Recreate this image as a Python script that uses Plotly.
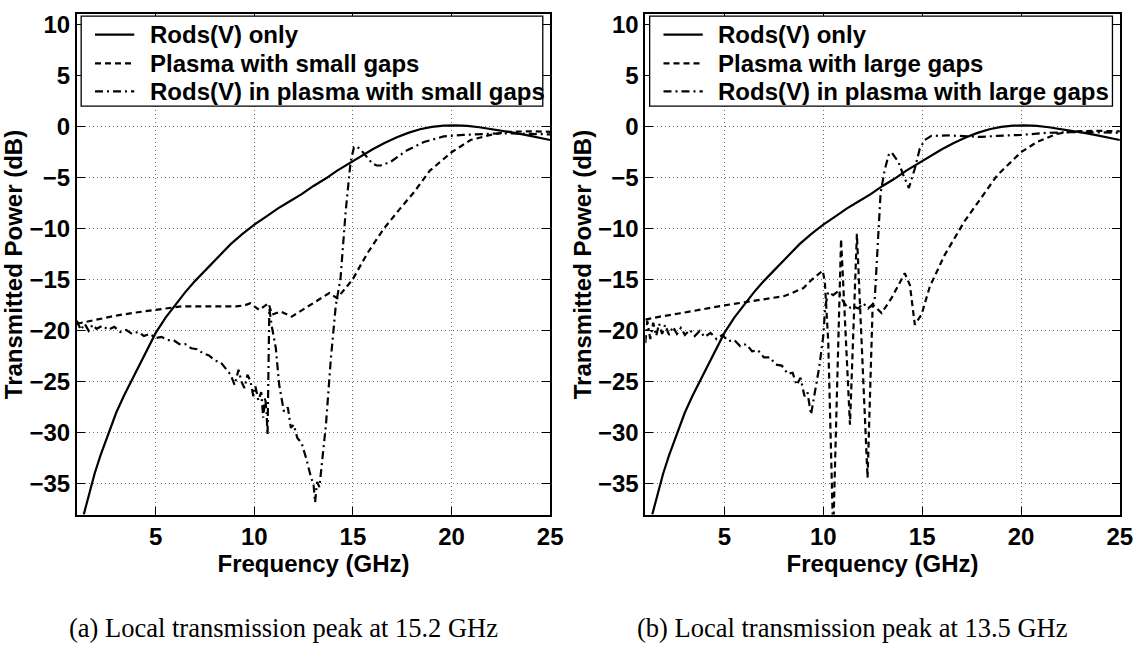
import plotly.graph_objects as go

# ---------------- data ----------------
rods_freq = [1.35, 1.6, 1.9, 2.2, 2.6, 3.0, 3.4, 3.8, 4.2, 4.6, 5.0, 5.5, 6.0, 6.5, 7.0, 7.6,
             8.2, 8.8, 9.4, 10.0, 10.6, 11.2, 11.8, 12.4, 13.0, 13.6, 14.2, 14.8, 15.4, 16.0,
             16.6, 17.2, 17.8, 18.4, 19.0, 19.6, 20.2, 20.8, 21.4, 22.0, 22.6, 23.2, 23.8, 24.4, 25.0]
rods_db = [-38.0, -36.1, -34.0, -32.2, -30.0, -28.0, -26.3, -24.8, -23.2, -21.7, -20.2, -18.7,
           -17.4, -16.2, -15.1, -13.9, -12.7, -11.5, -10.5, -9.6, -8.8, -8.0, -7.3, -6.6, -5.8,
           -5.1, -4.3, -3.6, -2.9, -2.2, -1.6, -1.05, -0.6, -0.25, -0.02, 0.1, 0.13, 0.08, -0.05,
           -0.22, -0.4, -0.6, -0.82, -1.05, -1.3]

small_plasma_freq = [1.0, 1.5, 2.1, 3.0, 4.0, 5.0, 6.3, 7.7, 9.1, 9.5, 9.8, 10.25, 10.72, 10.9,
                     11.34, 11.9, 12.8, 13.8, 14.2, 14.97, 15.73, 16.57, 17.4, 18.1, 18.9, 20.0,
                     20.96, 21.98, 22.8, 24.0, 25.0]
small_plasma_db = [-19.3, -19.1, -18.9, -18.5, -18.2, -17.95, -17.6, -17.6, -17.6, -17.5, -17.3,
                   -17.95, -17.3, -18.4, -18.1, -18.6, -17.5, -16.3, -16.8, -15.0, -12.4, -9.97,
                   -8.0, -6.4, -4.3, -2.5, -1.3, -0.8, -0.5, -0.45, -0.5]

small_rods_plasma_freq = [1.0, 1.2, 1.4, 1.6, 1.8, 2.0, 2.3, 2.6, 2.9, 3.2, 3.5, 3.8, 4.1, 4.4, 4.7,
                          5.0, 5.3, 5.6, 5.9, 6.2, 6.5, 6.8, 7.1, 7.4, 7.7, 8.0, 8.3, 8.6, 8.8, 9.0,
                          9.2, 9.35, 9.5, 9.65, 9.8, 9.95, 10.05, 10.2, 10.35, 10.45, 10.55, 10.62,
                          10.67, 10.76, 10.88, 11.09, 11.26, 11.5, 11.7, 11.85, 12.0, 12.18, 12.4,
                          12.63, 12.88, 13.0, 13.08, 13.18, 13.3, 13.63, 13.88, 14.13, 14.37, 14.63,
                          14.88, 15.05, 15.15, 15.3, 15.55, 15.98, 16.2, 16.4, 16.9, 17.75, 18.6,
                          19.6, 20.6, 22.0, 23.0, 24.0, 25.0]
small_rods_plasma_db = [-19.0, -19.9, -19.3, -20.0, -19.4, -19.8, -19.5, -19.9, -19.6, -20.1, -19.9,
                        -20.3, -20.1, -20.5, -20.3, -20.7, -20.6, -20.9, -20.9, -21.3, -21.3, -21.7,
                        -21.8, -22.2, -22.4, -22.9, -23.1, -23.8, -24.3, -25.3, -23.8, -25.0, -25.6,
                        -24.3, -24.9, -26.4, -25.4, -26.8, -26.0, -28.5, -26.5, -28.0, -30.2, -17.8,
                        -19.5, -21.7, -25.3, -27.9, -27.5, -29.5, -29.2, -30.5, -31.0, -32.5, -34.4,
                        -35.0, -36.8, -34.8, -35.3, -29.2, -22.7, -17.5, -14.85, -8.3, -3.45, -2.0,
                        -1.9, -2.1, -2.6, -3.6, -3.8, -3.8, -3.45, -2.3, -1.5, -0.95, -0.8, -0.68,
                        -0.65, -0.7, -0.75]

large_plasma_freq = [1.0, 1.75, 2.7, 3.75, 5.0, 6.0, 7.0, 8.0, 8.4, 9.0, 9.41, 9.97, 10.08, 10.25,
                     10.5, 10.9, 11.35, 11.7, 12.24, 12.5, 12.95, 13.45, 14.12, 14.38, 14.63, 14.97,
                     15.39, 16.13, 17.13, 17.97, 18.8, 20.0, 20.8, 21.8, 22.7, 24.0, 25.0]
large_plasma_db = [-18.9, -18.6, -18.3, -17.9, -17.5, -17.2, -16.9, -16.6, -16.3, -15.8, -15.0,
                   -14.1, -15.2, -21.0, -40.0, -11.0, -29.2, -10.5, -34.4, -17.4, -18.25, -16.8,
                   -14.35, -15.5, -19.4, -18.4, -15.65, -12.6, -9.3, -7.0, -4.75, -2.5, -1.5,
                   -0.7, -0.45, -0.4, -0.45]

large_rods_plasma_freq = [1.0, 1.1, 1.25, 1.4, 1.55, 1.7, 1.85, 2.0, 2.2, 2.4, 2.6, 2.8, 3.0, 3.25,
                          3.5, 3.75, 4.0, 4.3, 4.6, 4.9, 5.2, 5.5, 5.8, 6.1, 6.4, 6.7, 7.0, 7.3, 7.6,
                          7.9, 8.2, 8.45, 8.65, 8.85, 9.05, 9.2, 9.38, 9.6, 9.8, 10.0, 10.1, 10.25,
                          10.5, 10.76, 11.0, 11.26, 11.5, 11.77, 12.02, 12.27, 12.5, 12.6, 12.75,
                          12.9, 13.1, 13.3, 13.45, 13.8, 14.05, 14.33, 14.63, 14.88, 15.13, 15.47,
                          16.3, 17.13, 17.97, 18.8, 20.0, 21.3, 22.7, 24.0, 25.0]
large_rods_plasma_db = [-21.2, -19.0, -20.8, -19.2, -20.5, -19.3, -20.3, -19.4, -20.4, -19.6, -20.3,
                        -19.7, -20.4, -19.9, -20.5, -20.0, -20.6, -20.2, -20.8, -20.4, -21.0, -20.9,
                        -21.5, -21.3, -22.0, -21.9, -22.6, -22.6, -23.3, -23.4, -24.2, -24.1, -25.3,
                        -24.6, -26.4, -26.0, -28.2, -25.5, -23.5, -20.5, -17.6, -16.2, -16.5, -16.1,
                        -17.1, -17.8, -17.6, -17.8, -17.3, -17.8, -17.4, -17.0, -12.0, -6.5, -4.3,
                        -2.8, -2.5, -3.45, -4.75, -6.0, -4.1, -2.15, -1.3, -0.9, -0.85, -0.9, -1.0,
                        -0.9, -0.8, -0.6, -0.52, -0.55, -0.6]

left_names = ["Rods(V) only", "Plasma with small gaps", "Rods(V) in plasma with small gaps"]
right_names = ["Rods(V) only", "Plasma with large gaps", "Rods(V) in plasma with large gaps"]
captions = ["(a) Local transmission peak at 15.2 GHz", "(b) Local transmission peak at 13.5 GHz"]
x_ticks = [5, 10, 15, 20, 25]
y_ticks = [10, 5, 0, -5, -10, -15, -20, -25, -30, -35]

# ---------------- layout geometry (pixels) ----------------
W, H = 1148, 646
FRAMES = [(77.7, 556.5), (652.7, 1132.7)]
F_TOP, F_BOT = 11.5, 514.0
DASHES = ["solid", "6px,4px", "8px,4px,2px,4px"]
BOLD = dict(family="Liberation Sans", color="black", weight="bold")


def px(x):
    return x / W


def py(y):
    return 1 - y / H


fig = go.Figure()
series = [
    [(rods_freq, rods_db), (small_plasma_freq, small_plasma_db),
     (small_rods_plasma_freq, small_rods_plasma_db)],
    [(rods_freq, rods_db), (large_plasma_freq, large_plasma_db),
     (large_rods_plasma_freq, large_rods_plasma_db)],
]
names = [left_names, right_names]

shapes, annotations = [], []
for p in range(2):
    sx = "" if p == 0 else "2"
    for (xs, ys), nm, dash in zip(series[p], names[p], DASHES):
        fig.add_trace(go.Scatter(x=xs, y=ys, mode="lines", name=nm, showlegend=False,
                                 line=dict(color="black", width=2.2, dash=dash),
                                 xaxis="x" + sx, yaxis="y" + sx))
    fl, fr = FRAMES[p]
    # legend box (drawn manually to match the reference spacing)
    shapes.append(dict(type="rect", xref="paper", yref="paper", layer="above",
                       x0=px(fl + 4.4), x1=px(fr - 7.5), y0=py(103.6), y1=py(13.2),
                       fillcolor="white", line=dict(color="black", width=1.3)))
    for row_y, nm, dash in zip([31.8, 60.6, 88.7], names[p], DASHES):
        shapes.append(dict(type="line", xref="paper", yref="paper", layer="above",
                           x0=px(fl + 18.4), x1=px(fl + 58.1), y0=py(row_y), y1=py(row_y),
                           line=dict(color="black", width=2.2, dash=dash)))
        annotations.append(dict(text=nm, xref="paper", yref="paper", x=px(fl + 71.7),
                                y=py(row_y), xanchor="left", yanchor="middle", showarrow=False,
                                font=dict(size=24, **BOLD)))
    annotations.append(dict(text=captions[p], xref="paper", yref="paper",
                            x=px((fl + fr) / 2 - 30), y=py(628), xanchor="center",
                            yanchor="middle", showarrow=False,
                            font=dict(family="Liberation Serif", size=26.5, color="black")))

axis_common = dict(showline=True, linecolor="black", linewidth=1.6, mirror="ticks",
                   ticks="inside", ticklen=8, tickwidth=1, tickcolor="black",
                   showgrid=True, gridcolor="#6e6e6e", gridwidth=1, griddash="1px,3px",
                   zeroline=False, tickfont=dict(size=24, **BOLD))

layout = dict(width=W, height=H, margin=dict(l=0, r=0, t=0, b=0),
              paper_bgcolor="white", plot_bgcolor="white", showlegend=False,
              shapes=shapes, annotations=annotations)
for p in range(2):
    sx = "" if p == 0 else "2"
    fl, fr = FRAMES[p]
    layout["xaxis" + sx] = dict(axis_common, domain=[px(fl), px(fr)], range=[1, 25],
                                tickvals=x_ticks, anchor="y" + sx,
                                title=dict(text="Frequency (GHz)", font=dict(size=24, **BOLD),
                                           standoff=2))
    layout["yaxis" + sx] = dict(axis_common, domain=[py(F_BOT), py(F_TOP)], range=[-38, 11],
                                tickvals=y_ticks, anchor="x" + sx,
                                title=dict(text="Transmitted Power (dB)",
                                           font=dict(size=24, **BOLD), standoff=0))

fig.update_layout(**layout)
fig.write_html("out.html")
